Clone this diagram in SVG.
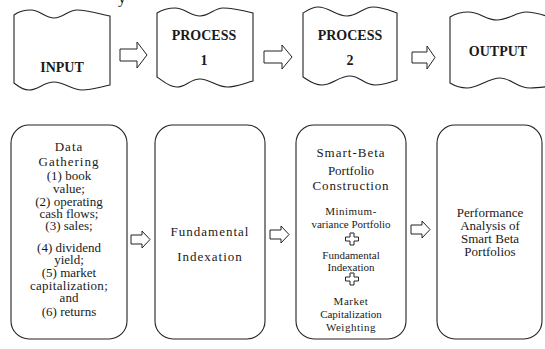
<svg xmlns="http://www.w3.org/2000/svg" width="545" height="349" viewBox="0 0 545 349">
  <style>
    .shape { fill: #ffffff; stroke: #222222; stroke-width: 1.1; }
    .arrow { fill: #ffffff; stroke: #222222; stroke-width: 1; stroke-linejoin: miter; }
    text { font-family: 'Liberation Serif', 'DejaVu Serif', serif; fill: #1a1a1a; text-anchor: middle; }
    .head { font-weight: bold; font-size: 14px; }
    .body { font-size: 13px; }
    .small { font-size: 11px; }
    .wide { letter-spacing: 1px; }
  </style>
  <rect width="545" height="349" fill="#ffffff"/>

  <!-- clipped glyph of the line above the chart -->
  <text x="122" y="3" font-size="16">y</text>

  <!-- stage banners (punched-tape shapes) -->
  <g id="input">
    <path class="shape" d="M14,15 C18,12 24,10 31,10 C40,10 45,18 54,18 C63,18 68,10 77,10 C87,10 100,14 110,16 L110,85 C100,87 92,90 82,90 C72,90 64,82 54,82 C44,82 38,90 29,90 C22,90 18,86 14,83 Z"/>
    <text class="head" x="62" y="72">INPUT</text>
  </g>
  <g id="process1">
    <path class="shape" d="M157,13 C162,10 168,8 175,8 C185,8 190,16 200,16 C210,16 214,8 223,8 C233,8 245,11 253,13 L253,81 C245,83 236,87 227,87 C216,87 210,79 200,79 C190,79 186,87 177,87 C168,87 162,80 157,77 Z"/>
    <text class="head" x="204" y="40">PROCESS</text>
    <text class="head" x="204" y="65">1</text>
  </g>
  <g id="process2">
    <path class="shape" d="M303,13 C308,10 312,7 318,7 C329,7 336,16 347,16 C358,16 363,7 373,7 C383,7 391,11 397,13 L397,80 C391,82 384,85 375,85 C364,85 360,76 350,76 C339,76 332,85 322,85 C313,85 308,80 303,77 Z"/>
    <text class="head" x="350" y="40">PROCESS</text>
    <text class="head" x="350" y="65">2</text>
  </g>
  <g id="output">
    <path class="shape" d="M450,17 C455,14 461,12 468,12 C480,12 486,20 497,20 C509,20 516,12 526,12 C536,12 544,15 552,18 L552,86 C545,87 538,88 530,88 C517,88 511,78 500,78 C489,78 478,88 467,88 C460,88 455,86 450,83 Z"/>
    <text class="head" x="498" y="56">OUTPUT</text>
  </g>

  <!-- method boxes -->
  <g id="data-gathering">
    <rect class="shape" x="11" y="125" width="116" height="214" rx="18" ry="18"/>
    <text class="body wide" x="69" y="151">Data</text>
    <text class="body wide" x="69" y="166">Gathering</text>
    <text class="body" x="69" y="180">(1) book</text>
    <text class="body" x="69" y="193">value;</text>
    <text class="body" x="69" y="206">(2) operating</text>
    <text class="body" x="69" y="218">cash flows;</text>
    <text class="body" x="69" y="230">(3) sales;</text>
    <text class="body" x="69" y="252">(4) dividend</text>
    <text class="body" x="69" y="264">yield;</text>
    <text class="body" x="69" y="277">(5) market</text>
    <text class="body" x="69" y="290" letter-spacing="0.3">capitalization;</text>
    <text class="body" x="69" y="302">and</text>
    <text class="body" x="69" y="316">(6) returns</text>
  </g>
  <g id="fundamental-indexation">
    <rect class="shape" x="155" y="125" width="110" height="214" rx="18" ry="18"/>
    <text class="body wide" x="210" y="236">Fundamental</text>
    <text class="body wide" x="210" y="261">Indexation</text>
  </g>
  <g id="smart-beta">
    <rect class="shape" x="296" y="125" width="110" height="214" rx="18" ry="18"/>
    <text class="body wide" x="351" y="157">Smart-Beta</text>
    <text class="body" x="351" y="175" font-size="14">Portfolio</text>
    <text class="body" x="351" y="190" letter-spacing="0.8">Construction</text>
    <text class="small" x="351" y="215" letter-spacing="0.5">Minimum-</text>
    <text class="small" x="351" y="228">variance Portfolio</text>
    <path class="arrow" d="M350,233 h4 v4 h4.5 v4 h-4.5 v4 h-4 v-4 h-4.5 v-4 h4.5 Z"/>
    <text class="small" x="351" y="259">Fundamental</text>
    <text class="small" x="351" y="271">Indexation</text>
    <path class="arrow" d="M350,273 h4 v4 h4.5 v4 h-4.5 v4 h-4 v-4 h-4.5 v-4 h4.5 Z"/>
    <text class="small" x="351" y="305" letter-spacing="0.5">Market</text>
    <text class="small" x="351" y="318">Capitalization</text>
    <text class="small" x="351" y="331" letter-spacing="0.5">Weighting</text>
  </g>
  <g id="performance">
    <rect class="shape" x="437" y="125" width="105" height="214" rx="18" ry="18"/>
    <text class="body" x="490" y="217" font-size="12.5">Performance</text>
    <text class="body" x="490" y="230" font-size="12.5">Analysis of</text>
    <text class="body" x="490" y="243" font-size="12.5">Smart Beta</text>
    <text class="body" x="490" y="256" font-size="12.5">Portfolios</text>
  </g>

  <!-- block arrows between stages -->
  <g id="connectors">
    <path class="arrow" d="M120,49 H137 V42 L147,55 L137,68 V61 H120 Z"/>
    <path class="arrow" d="M264,51 H282 V45 L292,57 L282,69 V63 H264 Z"/>
    <path class="arrow" d="M412,52 H427 V46 L435,57.5 L427,69 V63 H412 Z"/>
    <path class="arrow" d="M131,235 H142 V231 L150,239.5 L142,248 V244 H131 Z"/>
    <path class="arrow" d="M270,230 H281 V226 L289,234.5 L281,243 V239 H270 Z"/>
    <path class="arrow" d="M411,225 H422 V221 L430,229.5 L422,238 V234 H411 Z"/>
  </g>
</svg>
